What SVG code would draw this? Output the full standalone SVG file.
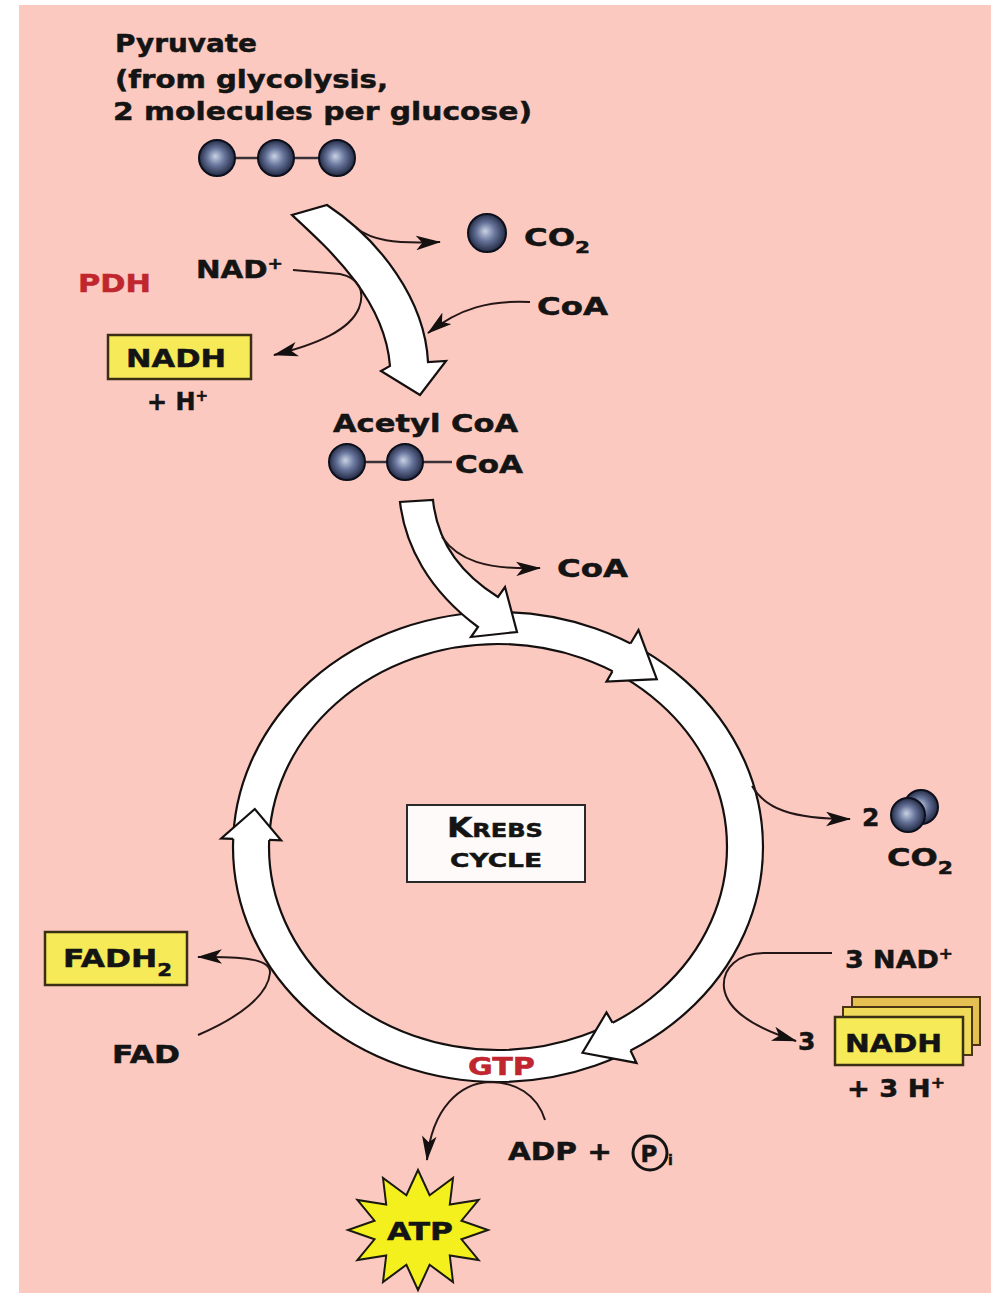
<svg xmlns="http://www.w3.org/2000/svg" width="1001" height="1299" viewBox="0 0 1001 1299">
<defs>
<radialGradient id="ball" cx="0.5" cy="0.5" r="0.55" fx="0.45" fy="0.45">
<stop offset="0" stop-color="#c9d2e4"/>
<stop offset="0.45" stop-color="#66739a"/>
<stop offset="1" stop-color="#161c32"/>
</radialGradient>
<marker id="ah" viewBox="0 0 24 14" refX="23" refY="7" markerWidth="25" markerHeight="15" markerUnits="userSpaceOnUse" orient="auto">
<path d="M0,0 L24,7 L0,14 L6,7 Z" fill="#141010"/>
</marker>
<style>
text{font-family:"DejaVu Sans","Liberation Sans",sans-serif;font-weight:bold;fill:#141414;stroke:#141414;stroke-width:0.5;}
.red{fill:#c0262e;stroke:#c0262e;}
.ball{fill:url(#ball);stroke:#0c0f1c;stroke-width:2;}
.bond{stroke:#3a3038;stroke-width:2.5;}
.thin{fill:none;stroke:#241616;stroke-width:2;}
.band{fill:#ffffff;stroke:#141010;stroke-width:2.2;stroke-linejoin:miter;}
.ybox{fill:#f6ea58;stroke:#3a2e14;stroke-width:2.5;}
</style>
</defs>
<rect x="0" y="0" width="1001" height="1299" fill="#ffffff"/>
<rect x="19" y="5" width="972" height="1288" fill="#fbc9c0"/>

<g id="node-pyruvate">
<text x="115" y="52" font-size="25" textLength="142" lengthAdjust="spacingAndGlyphs">Pyruvate</text>
<text x="115" y="88" font-size="25" textLength="273" lengthAdjust="spacingAndGlyphs">(from glycolysis,</text>
<text x="113" y="120" font-size="25" textLength="419" lengthAdjust="spacingAndGlyphs">2 molecules per glucose)</text>
<line class="bond" x1="235" y1="158" x2="259" y2="158"/>
<line class="bond" x1="294" y1="158" x2="320" y2="158"/>
<circle class="ball" cx="217" cy="158" r="18"/>
<circle class="ball" cx="276" cy="158" r="18"/>
<circle class="ball" cx="337" cy="158" r="18"/>
</g>

<g id="node-pdh">
<text class="red" x="78" y="292" font-size="25" textLength="73" lengthAdjust="spacingAndGlyphs">PDH</text>
</g>

<g id="node-nad">
<text x="196" y="278" font-size="24" textLength="87" lengthAdjust="spacingAndGlyphs">NAD<tspan font-size="15" dy="-9">+</tspan></text>
</g>

<g id="node-nadh">
<rect class="ybox" x="108" y="335" width="143" height="44"/>
<text x="126" y="367" font-size="25" textLength="100" lengthAdjust="spacingAndGlyphs">NADH</text>
<text x="147" y="410" font-size="24" textLength="61" lengthAdjust="spacingAndGlyphs">+ H<tspan font-size="15" dy="-9">+</tspan></text>
</g>

<g id="node-co2-top">
<circle class="ball" cx="487" cy="233" r="19"/>
<text x="524" y="246" font-size="24" textLength="66" lengthAdjust="spacingAndGlyphs">CO<tspan font-size="16" dy="7">2</tspan></text>
</g>

<g id="node-coa-top">
<text x="537" y="315" font-size="24" textLength="71" lengthAdjust="spacingAndGlyphs">CoA</text>
</g>

<g id="node-acetylcoa">
<text x="333" y="432" font-size="24" textLength="185" lengthAdjust="spacingAndGlyphs">Acetyl CoA</text>
<line class="bond" x1="365" y1="462" x2="388" y2="462"/>
<line class="bond" x1="423" y1="462" x2="452" y2="462"/>
<circle class="ball" cx="347" cy="462" r="18"/>
<circle class="ball" cx="405" cy="462" r="18"/>
<text x="455" y="473" font-size="25" textLength="68" lengthAdjust="spacingAndGlyphs">CoA</text>
</g>

<g id="node-coa-released">
<text x="557" y="577" font-size="25" textLength="71" lengthAdjust="spacingAndGlyphs">CoA</text>
</g>

<g id="node-krebs-cycle">
<ellipse cx="498" cy="847" rx="265" ry="235" fill="#ffffff" stroke="#141010" stroke-width="2.2"/>
<ellipse cx="498" cy="847" rx="229" ry="203" fill="#fbc9c0" stroke="#141010" stroke-width="2.2"/>
<path class="band" d="M612.5,671.2 L606.5,681.6 L656.8,679.2 L638.5,630.1 L630.5,643.5"/>
<path class="band" d="M269.1,839.9 L281.1,840.3 L254.8,809 L221.2,838.4 L233.2,838.8"/>
<path class="band" d="M612.5,1022.8 L606.5,1012.4 L582.5,1052.8 L636.5,1062.9 L630.5,1050.5"/>
<rect x="407" y="805" width="178" height="77" fill="#fffafa" stroke="#2a2a2a" stroke-width="2"/>
<text x="447" y="837" textLength="96" lengthAdjust="spacingAndGlyphs"><tspan font-size="27">K</tspan><tspan font-size="20">REBS</tspan></text>
<text x="450" y="867" font-size="20" textLength="92" lengthAdjust="spacingAndGlyphs">CYCLE</text>
<text class="red" x="468" y="1075" font-size="25" textLength="67" lengthAdjust="spacingAndGlyphs">GTP</text>
</g>

<g id="node-co2-right">
<text x="862" y="826" font-size="25">2</text>
<circle class="ball" cx="921" cy="807" r="17"/>
<circle class="ball" cx="908" cy="815" r="17"/>
<text x="887" y="866" font-size="25" textLength="66" lengthAdjust="spacingAndGlyphs">CO<tspan font-size="17" dy="8">2</tspan></text>
</g>

<g id="node-nad-right">
<text x="845" y="968" font-size="24" textLength="108" lengthAdjust="spacingAndGlyphs">3 NAD<tspan font-size="15" dy="-9">+</tspan></text>
</g>

<g id="node-nadh-right">
<text x="798" y="1050" font-size="25">3</text>
<rect x="852" y="997" width="128" height="48" fill="#e6bf52" stroke="#4a3414" stroke-width="2"/>
<rect x="843" y="1007" width="129" height="48" fill="#f0da5a" stroke="#4a3414" stroke-width="2"/>
<rect class="ybox" x="835" y="1017" width="128" height="48"/>
<text x="845" y="1052" font-size="25" textLength="97" lengthAdjust="spacingAndGlyphs">NADH</text>
<text x="847" y="1097" font-size="24" textLength="98" lengthAdjust="spacingAndGlyphs">+ 3 H<tspan font-size="15" dy="-9">+</tspan></text>
</g>

<g id="node-fadh2">
<rect class="ybox" x="45" y="932" width="142" height="53"/>
<text x="63" y="967" font-size="25" textLength="109" lengthAdjust="spacingAndGlyphs">FADH<tspan font-size="17" dy="9">2</tspan></text>
</g>

<g id="node-fad">
<text x="112" y="1063" font-size="24" textLength="68" lengthAdjust="spacingAndGlyphs">FAD</text>
</g>

<g id="node-adp">
<text x="508" y="1160" font-size="25" textLength="104" lengthAdjust="spacingAndGlyphs">ADP +</text>
<circle cx="650" cy="1153" r="17" fill="none" stroke="#141414" stroke-width="3"/>
<text x="649" y="1162" font-size="23" text-anchor="middle">P</text>
<text x="668" y="1165" font-size="14">i</text>
</g>

<g id="node-atp">
<polygon points="418,1170 429.6,1195.2 453,1178 449.8,1204.5 478.6,1200 461.5,1220.7 488,1230 461.5,1239.3 478.6,1260 449.8,1255.5 453,1282 429.6,1264.8 418,1290 406.4,1264.8 383,1282 386.2,1255.5 357.4,1260 374.5,1239.3 348,1230 374.5,1220.7 357.4,1200 386.2,1204.5 383,1178 406.4,1195.2" fill="#f4f01e" stroke="#1a1a10" stroke-width="2"/>
<text x="387" y="1240" font-size="25" textLength="66" lengthAdjust="spacingAndGlyphs">ATP</text>
</g>

<g id="connectors">
<path class="band" d="M292,215 C330,250 385,300 390,366 L381,371 L420,395 L446,361 L428,362 C425,300 380,240 327,205 Z"/>
<path class="band" d="M400,502 C405,545 428,590 478,627 L471,637 L517,632 L505,587 L498,597 C458,572 437,540 433,500 Z"/>
<path class="thin" marker-end="url(#ah)" d="M356,228 C372,240 392,244 440,242"/>
<path class="thin" marker-end="url(#ah)" d="M293,270 L340,274 C360,278 365,292 359,308 C350,330 318,344 274,355"/>
<path class="thin" marker-end="url(#ah)" d="M530,302 C490,300 460,308 428,333"/>
<path class="thin" marker-end="url(#ah)" d="M442,537 C458,560 485,570 540,568"/>
<path class="thin" marker-end="url(#ah)" d="M752,786 C765,808 790,819 850,819"/>
<path class="thin" marker-end="url(#ah)" d="M832,953 L765,953 C738,953 722,968 724,988 C727,1010 752,1027 796,1041"/>
<path class="thin" marker-end="url(#ah)" d="M198,1035 C240,1017 268,995 270,973 C271,961 252,956 198,957"/>
<path class="thin" marker-end="url(#ah)" d="M545,1120 C537,1094 515,1082 490,1082 C460,1083 432,1108 427,1160"/>
</g>
</svg>
